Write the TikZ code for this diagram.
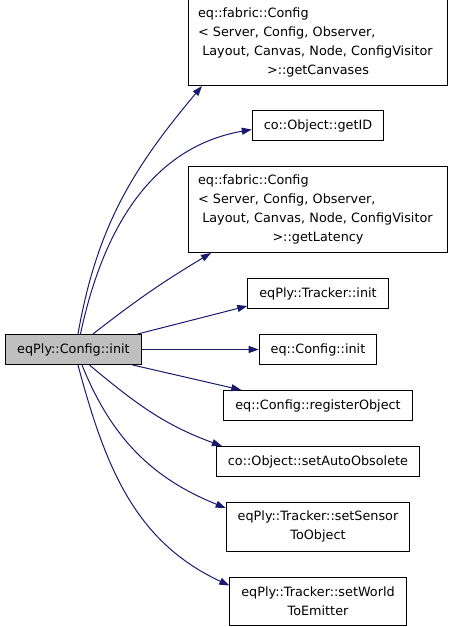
\documentclass[tikz,border=0pt]{standalone}
\usepackage{fontspec}
\setmainfont{DejaVu Sans}
\usetikzlibrary{arrows.meta,positioning}
\usepackage{xcolor}
\definecolor{edgeblue}{HTML}{191970}
\definecolor{rootgray}{HTML}{BFBFBF}

\begin{document}
\begin{tikzpicture}[
            x=1pt, y=1pt,
            node distance=25pt and 117pt,
            fn/.style={rectangle, draw, line width=1pt, align=center, minimum height=30pt, inner xsep=11.5pt, inner ysep=0pt, font=\fontsize{12.8}{19}\selectfont},
            fntwo/.style={fn, minimum height=48.5pt},
            fnfour/.style={fn, align=left, text width=240pt, inner xsep=9.5pt, minimum height=86pt},
            rootfn/.style={fn, fill=rootgray},
            arrow/.style={-{Triangle[length=10pt,width=7pt]}, draw=edgeblue, line width=1pt}
        ]
            \useasboundingbox (0,0) rectangle (453,-627);

            % --- CHAMADAS (Direita) ---
            % linha do meio, alinhada com a raiz
            \node[fn] (configInit) at (318,-349.5) {eq::Config::init};

            % acima
            \node[fn, above=of configInit] (trackerInit) {eqPly::Tracker::init};
            \node[fnfour, above=of trackerInit] (getLatency) {eq::fabric::Config\\< Server, Config, Observer,\\ \ Layout, Canvas, Node, ConfigVisitor\\\hspace*{10pt}\makebox[220pt]{>::getLatency}};
            \node[fn, above=of getLatency] (getID) {co::Object::getID};
            \node[fnfour, above=of getID, yshift=-1pt] (getCanvases) {eq::fabric::Config\\< Server, Config, Observer,\\ \ Layout, Canvas, Node, ConfigVisitor\\\hspace*{10pt}\makebox[220pt]{>::getCanvases}};

            % abaixo
            \node[fn, below=of configInit] (registerObj) {eq::Config::registerObject};
            \node[fn, below=of registerObj] (setAutoObs) {co::Object::setAutoObsolete};
            \node[fntwo, below=of setAutoObs] (setSensor) {eqPly::Tracker::setSensor\\ToObject};
            \node[fntwo, below=of setSensor] (setWorld) {eqPly::Tracker::setWorld\\ToEmitter};

            % --- RAIZ (Esquerda) ---
            \node[rootfn, left=of configInit] (root) {eqPly::Config::init};

            % ligações
            \draw[arrow] ([xshift=4.5pt]root.north) to[out=80,in=230] ([xshift=14pt]getCanvases.south west);
            \draw[arrow] ([xshift=7pt]root.north) to[out=78,in=190] ([yshift=-4pt]getID.west);
            \draw[arrow] ([xshift=19.5pt]root.north) to[out=38,in=211] ([xshift=23pt]getLatency.south west);
            \draw[arrow] ([xshift=-4pt]root.north east) -- ([yshift=3pt]trackerInit.south west);
            \draw[arrow] (root.east) -- (configInit.west);
            \draw[arrow] ([xshift=-9pt]root.south east) -- ([xshift=18pt]registerObj.north west);
            \draw[arrow] ([xshift=16pt]root.south) to[out=-40,in=160] ([xshift=6pt]setAutoObs.north west);
            \draw[arrow] ([xshift=8.5pt]root.south) to[out=-68,in=158] ([yshift=-6pt]setSensor.north west);
            \draw[arrow] ([xshift=4.5pt]root.south) to[out=-75,in=155] ([yshift=-9pt]setWorld.north west);

        \end{tikzpicture}
\end{document}
